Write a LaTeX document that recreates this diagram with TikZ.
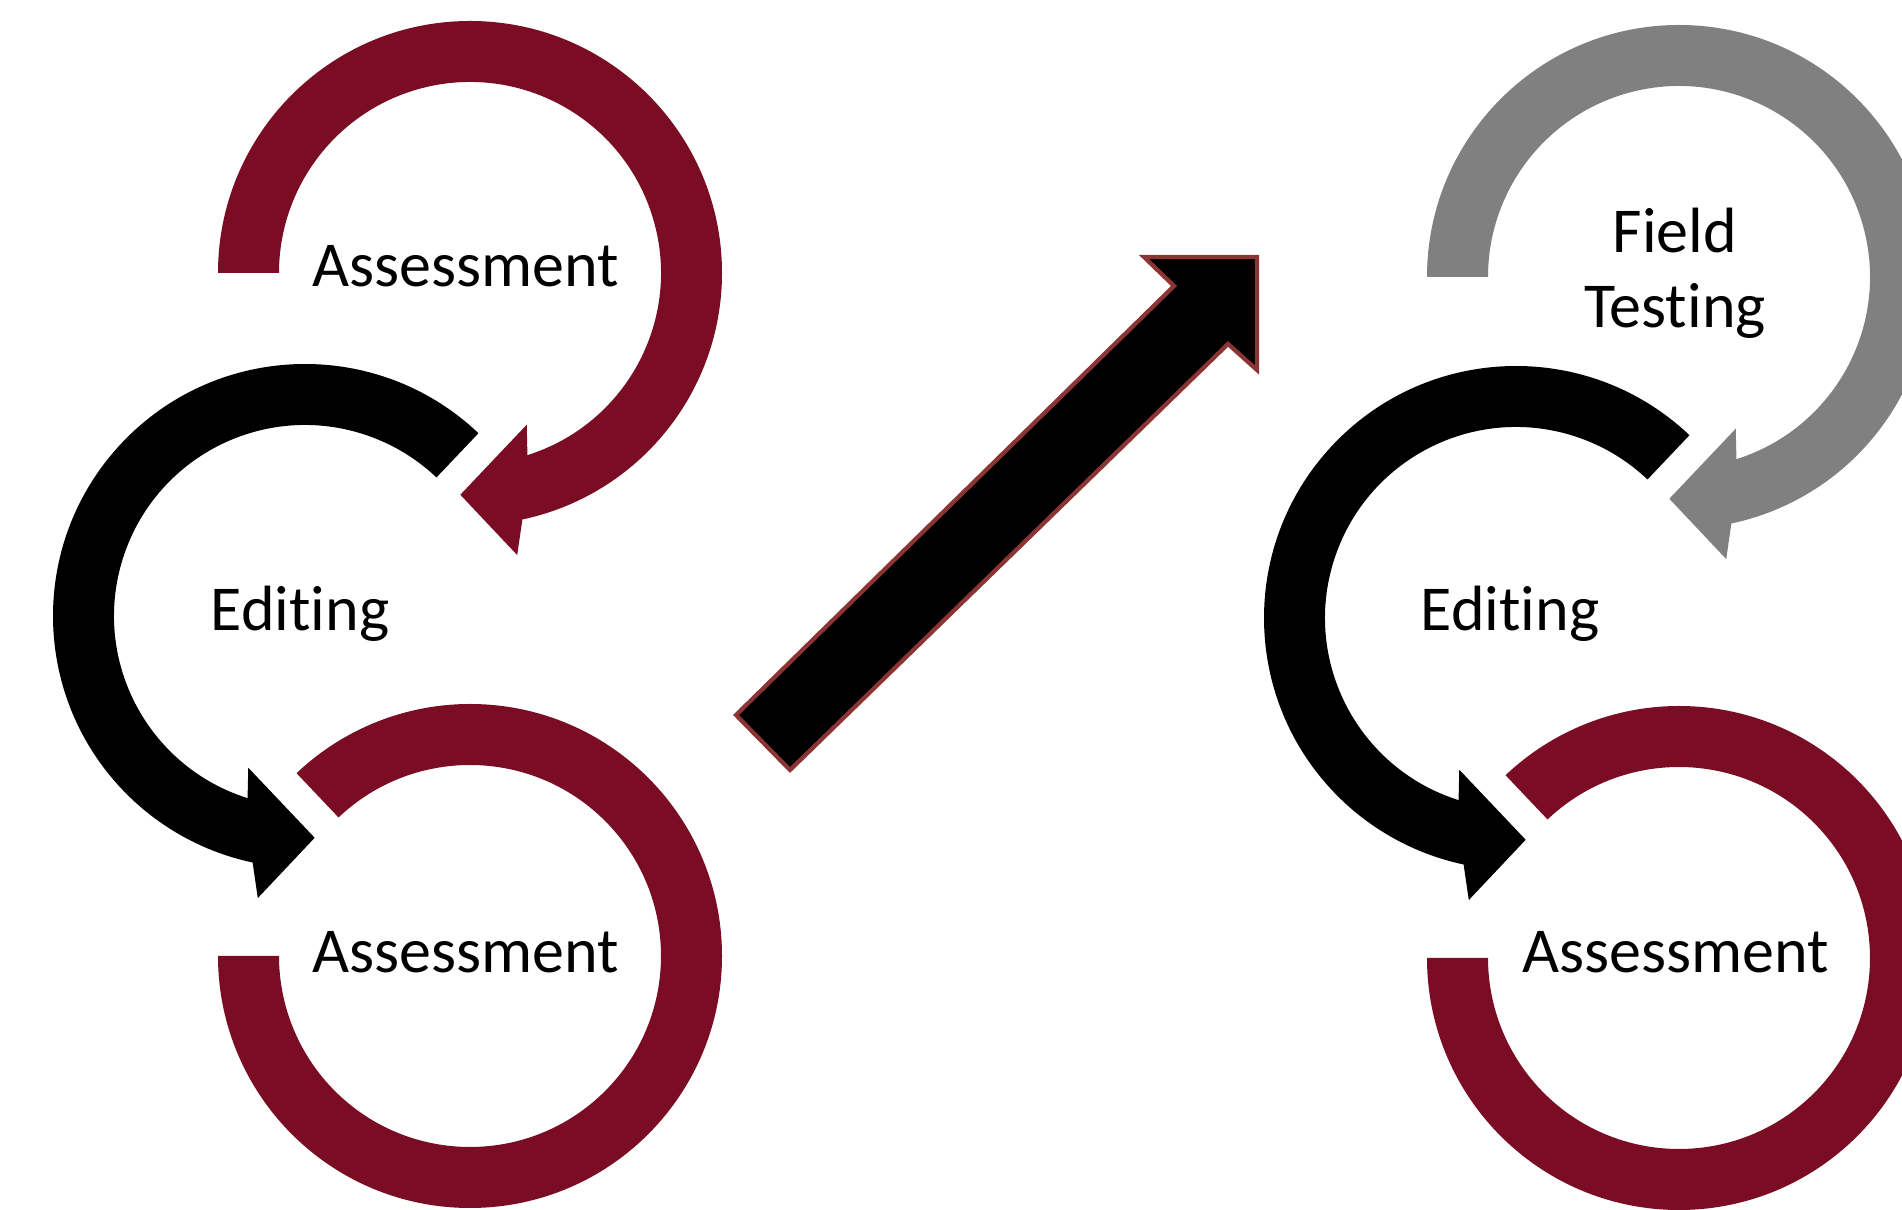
\documentclass[tikz,border=0pt]{standalone}
\usepackage{fontspec}
\setmainfont{Carlito}[Ligatures={NoCommon}]
\usetikzlibrary{calc}

\definecolor{wine}{RGB}{122,12,36}
\definecolor{stone}{RGB}{128,128,128}
\definecolor{rust}{RGB}{140,52,52}

% ring geometry (outer / inner radius) and arrow-head geometry
\def\ro{252}
\def\ri{191}

% ring running clockwise from the left side, ending in an arrow head
\newcommand\loopcw[2]{%
  \fill[#2] ($(#1)+(180:\ro)$) arc[start angle=180, end angle=438, radius=\ro]
    -- ($(#1)+(440.5:286)$) -- ($(#1)+(452.5:222)$) -- ($(#1)+(429.5:162)$)
    -- ($(#1)+(432.5:\ri)$) arc[start angle=432.5, end angle=180, radius=\ri] -- cycle;}

% ring running counter-clockwise from the upper right, ending in an arrow head
\newcommand\loopccw[2]{%
  \fill[#2] ($(#1)+(-46.5:\ro)$) arc[start angle=-46.5, end angle=-258, radius=\ro]
    -- ($(#1)+(-260.5:286)$) -- ($(#1)+(-272.5:222)$) -- ($(#1)+(-249.5:162)$)
    -- ($(#1)+(-252.5:\ri)$) arc[start angle=-252.5, end angle=-46.5, radius=\ri] -- cycle;}

% open ring without a head, from the left side round the bottom to the upper left
\newcommand\loopopen[2]{%
  \fill[#2] ($(#1)+(180:\ro)$) arc[start angle=180, end angle=-133.5, radius=\ro]
    -- ($(#1)+(-133.5:\ri)$) arc[start angle=-133.5, end angle=180, radius=\ri] -- cycle;}

\begin{document}
\begin{tikzpicture}[x=0.01cm, y=-0.01cm,
  label/.style={font=\fontsize{18.2pt}{21.3pt}\selectfont, text=black, inner sep=0pt, anchor=base, align=center}]
\useasboundingbox (0,0) rectangle (1902,1210);
\clip (0,0) rectangle (1902,1210);

% ring centres
\coordinate (la) at (470,273);
\coordinate (le) at (305,616);
\coordinate (lb) at (470,956);
\coordinate (ra) at (1679,277);
\coordinate (re) at (1516,618);
\coordinate (rb) at (1679,958);

% left cycle
\loopcw{la}{wine}
\loopccw{le}{black}
\loopopen{lb}{wine}

% right cycle
\loopcw{ra}{stone}
\loopccw{re}{black}
\loopopen{rb}{wine}

% labels
\node[label] (t1) at (466,287) {Assessment};
\node[label] (t2) at (300,631) {Editing};
\node[label] (t3) at (466,973) {Assessment};
\node[label] (t4) at (1675,253) {Field};
\node[label] (t5) at (1675,328) {Testing};
\node[label] (t6) at (1510,631) {Editing};
\node[label] (t7) at (1676,973) {Assessment};

% transition arrow between the two cycles
\coordinate (a1) at (736,715);
\coordinate (a2) at (1174,286);
\coordinate (a3) at (1144,257);
\coordinate (a4) at (1257,257);
\coordinate (a5) at (1257,370);
\coordinate (a6) at (1228,344);
\coordinate (a7) at (790,770);
\filldraw[fill=black, draw=rust, line width=1.2pt, line join=miter]
  (a1) -- (a2) -- (a3) -- (a4) -- (a5) -- (a6) -- (a7) -- cycle;
\end{tikzpicture}
\end{document}
